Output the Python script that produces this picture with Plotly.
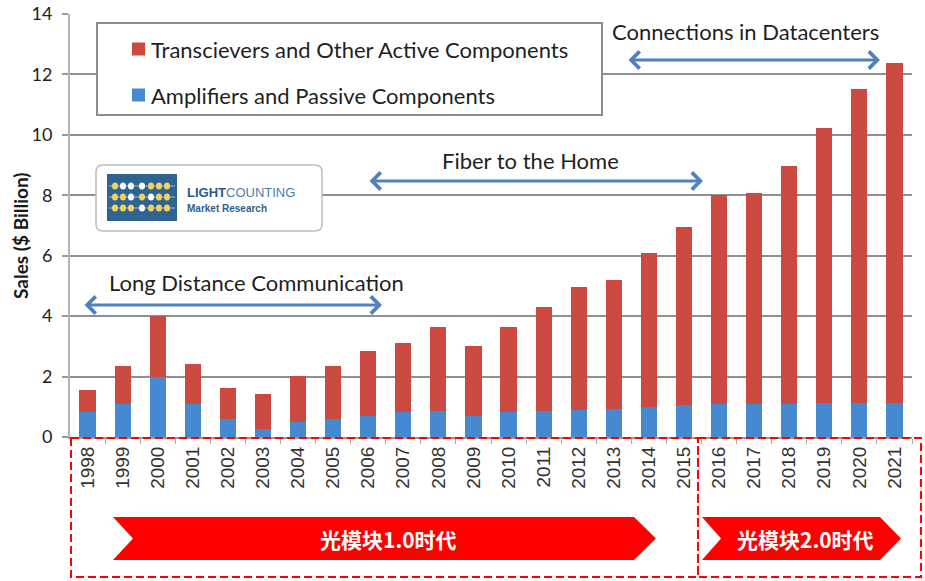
import plotly.graph_objects as go

# -------------------------------------------------
# Data ($ billion)
# -------------------------------------------------
years = [str(y) for y in range(1998, 2022)]

amplifiers = [0.83, 1.09, 1.98, 1.09, 0.60, 0.28, 0.49, 0.60, 0.69, 0.82, 0.87, 0.70,
              0.83, 0.85, 0.88, 0.94, 0.98, 1.05, 1.10, 1.10, 1.10, 1.12, 1.12, 1.12]
transceivers = [0.72, 1.27, 2.04, 1.33, 1.02, 1.14, 1.53, 1.76, 2.17, 2.29, 2.76, 2.32,
                2.80, 3.44, 4.08, 4.24, 5.12, 5.89, 6.90, 6.99, 7.88, 9.10, 10.40, 11.26]

series_names = ["Transcievers and Other Active Components", "Amplifiers and Passive Components"]
series_colors = ["#cb4940", "#4589d0"]

y_ticks = [0, 2, 4, 6, 8, 10, 12, 14]

era_labels = ["光模块1.0时代", "光模块2.0时代"]
trend_labels = ["Long Distance Communication", "Fiber to the Home", "Connections in Datacenters"]

# -------------------------------------------------
# Layout in page pixels (plot area 70..912 x 14..437);
# the page's body margin is removed so figure px == page px
# -------------------------------------------------
W, H = 925, 581
L, R, T, B = 70, 912, 14, 437


def px(x):
    return (x - L) / (R - L)


def py(y):
    return (B - y) / (B - T)


fig = go.Figure()

fig.add_trace(go.Bar(x=years, y=amplifiers, name=series_names[1],
                     marker=dict(color=series_colors[1], line=dict(width=0)),
                     showlegend=False))
fig.add_trace(go.Bar(x=years, y=transceivers, name=series_names[0],
                     marker=dict(color=series_colors[0], line=dict(width=0)),
                     showlegend=False))

shapes = []
annotations = []

# legend box (drawn by hand to match the spacing)
shapes.append(dict(type="rect", xref="paper", yref="paper",
                   x0=px(97), x1=px(602), y0=py(23), y1=py(115),
                   fillcolor="white", line=dict(color="#8c8c8c", width=2), layer="above"))
for i, (name, col) in enumerate(zip(series_names, series_colors)):
    yc = [49, 95][i]
    shapes.append(dict(type="rect", xref="paper", yref="paper",
                       x0=px(132), x1=px(145), y0=py(yc - 6.5), y1=py(yc + 6.5),
                       fillcolor=col, line=dict(width=0), layer="above"))
    annotations.append(dict(text=name, xref="paper", yref="paper",
                            x=px(149), y=py(yc), xanchor="left", yanchor="middle",
                            showarrow=False, font=dict(family="Lato", size=22, color="#1f1f1f")))

# logo box
x0, x1, y0, y1, r = 96, 322, 165, 231, 7
logo_path = (f"M {px(x0 + r)},{py(y0)} L {px(x1 - r)},{py(y0)} "
             f"Q {px(x1)},{py(y0)} {px(x1)},{py(y0 + r)} L {px(x1)},{py(y1 - r)} "
             f"Q {px(x1)},{py(y1)} {px(x1 - r)},{py(y1)} L {px(x0 + r)},{py(y1)} "
             f"Q {px(x0)},{py(y1)} {px(x0)},{py(y1 - r)} L {px(x0)},{py(y0 + r)} "
             f"Q {px(x0)},{py(y0)} {px(x0 + r)},{py(y0)} Z")
shapes.append(dict(type="path", xref="paper", yref="paper", path=logo_path,
                   fillcolor="white", line=dict(color="#bdbdbd", width=1.5), layer="above"))
shapes.append(dict(type="rect", xref="paper", yref="paper",
                   x0=px(107), x1=px(177), y0=py(174), y1=py(221),
                   fillcolor="#2e6392", line=dict(width=0), layer="above"))
rows = [186, 197, 208]
cols = [115, 123, 131, 142, 151, 159, 167]
pattern = ["YWWWYYY", "YYWYWYY", "YYYWYYY"]
for ry, pat in zip(rows, pattern):
    shapes.append(dict(type="line", xref="paper", yref="paper",
                       x0=px(109), x1=px(175), y0=py(ry), y1=py(ry),
                       line=dict(color="#9fc0dc", width=1), layer="above"))
    for cx, c in zip(cols, pat):
        shapes.append(dict(type="circle", xref="paper", yref="paper",
                           x0=px(cx - 3), x1=px(cx + 3), y0=py(ry - 3.5), y1=py(ry + 3.5),
                           fillcolor="#f3d35a" if c == "Y" else "white",
                           line=dict(width=0), layer="above"))
annotations.append(dict(text="<b>LIGHT</b><span style='color:#4d7ea8'>COUNTING</span>",
                        xref="paper", yref="paper", x=px(185), y=py(193),
                        xanchor="left", yanchor="middle", showarrow=False,
                        font=dict(family="Arial", size=13, color="#2b5b84")))
annotations.append(dict(text="<b>Market Research</b>",
                        xref="paper", yref="paper", x=px(185), y=py(208),
                        xanchor="left", yanchor="middle", showarrow=False,
                        font=dict(family="Arial", size=10, color="#2f5f8a")))

# y axis title, placed by hand (sits a little below the axis centre)
annotations.append(dict(text="<b>Sales ($ Billion)</b>", xref="paper", yref="paper",
                        x=px(20), y=py(236), textangle=-90,
                        xanchor="center", yanchor="middle", showarrow=False,
                        font=dict(family="Lato", size=19, color="#1a1a1a")))

# trend labels with double-headed arrows
trend_text_pos = [(256, 283), (530, 161), (745, 32)]
trend_arrows = [(83, 382, 305), (368, 703, 181), (627, 880, 60)]
for label, (tx, ty), (ax0, ax1, ay) in zip(trend_labels, trend_text_pos, trend_arrows):
    annotations.append(dict(text=label, xref="paper", yref="paper", x=px(tx), y=py(ty),
                            xanchor="center", yanchor="middle", showarrow=False,
                            font=dict(family="Lato", size=22, color="#1f1f1f")))
    annotations.append(dict(text="", xref="paper", yref="paper", x=px(ax1), y=py(ay),
                            ax=-(ax1 - ax0), ay=0, axref="pixel", ayref="pixel",
                            showarrow=True, arrowhead=4, arrowside="end+start",
                            arrowsize=1.1, arrowwidth=3, arrowcolor="#4f81bd"))

# era boxes (red dashed) and chevrons
for bx0, bx1 in [(71, 698), (698, 921)]:
    shapes.append(dict(type="rect", xref="paper", yref="paper",
                       x0=px(bx0), x1=px(bx1), y0=py(438), y1=py(577),
                       line=dict(color="#ff0000", width=2, dash="8px,4px"), layer="above"))

chevrons = [(113, 133, 634, 656), (702, 721, 880, 901)]
for (cx0, notch, body, tip), label in zip(chevrons, era_labels):
    path = (f"M {px(cx0)},{py(517)} L {px(body)},{py(517)} L {px(tip)},{py(538.5)} "
            f"L {px(body)},{py(560)} L {px(cx0)},{py(560)} L {px(notch)},{py(538.5)} Z")
    shapes.append(dict(type="path", xref="paper", yref="paper", path=path,
                       fillcolor="#ff0000", line=dict(width=0), layer="above"))
    annotations.append(dict(text=f"<b>{label}</b>", xref="paper", yref="paper",
                            x=px((notch + body) / 2 + 5), y=py(539),
                            xanchor="center", yanchor="middle", showarrow=False,
                            font=dict(family="Noto Sans CJK SC", size=21, color="white")))

fig.update_layout(
    width=W, height=H,
    margin=dict(l=L, r=W - R, t=T, b=H - B),
    paper_bgcolor="white", plot_bgcolor="white",
    barmode="stack", bargap=0.54,
    showlegend=False,
    shapes=shapes, annotations=annotations,
)

fig.update_yaxes(
    automargin=False,
    range=[0, 14], tickvals=y_ticks,
    showgrid=True, gridcolor="#8f8f8f", gridwidth=2,
    zeroline=False,
    showline=True, linecolor="#b5b5b5", linewidth=2,
    ticks="outside", ticklen=6, tickcolor="#9a9a9a", tickwidth=2,
    ticklabelstandoff=6, ticklabeloverflow="allow",
    tickfont=dict(family="Lato", size=18, color="#222222"),
)

fig.update_xaxes(
    automargin=False,
    type="category", tickangle=-90,
    showgrid=False, showline=True, linecolor="#9a9a9a", linewidth=2,
    ticks="outside", tickson="boundaries", ticklen=5, tickcolor="#aaaaaa",
    tickfont=dict(family="Arial", size=19, color="#333333"),
)

fig.write_html("out.html", config={"displayModeBar": False},
               post_script="document.body.style.margin = '0';")
